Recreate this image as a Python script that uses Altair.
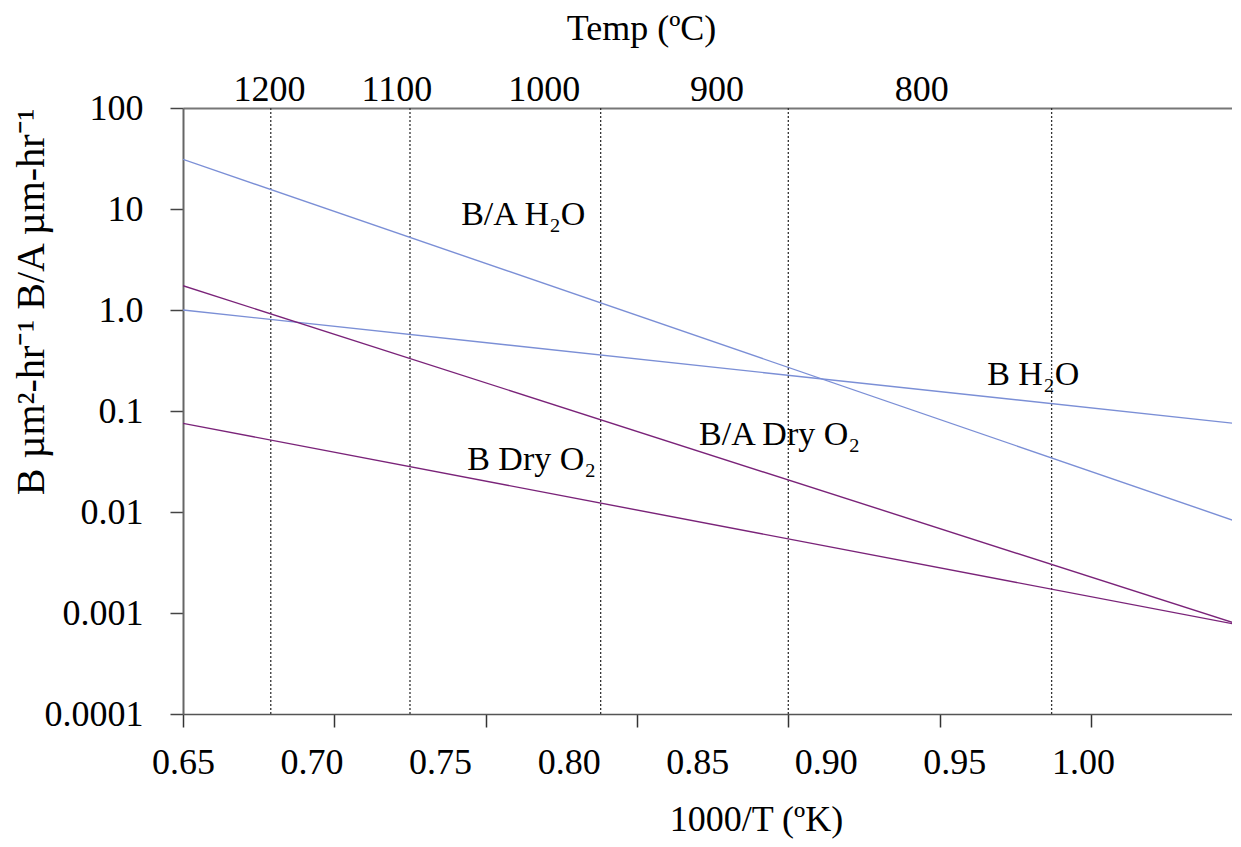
import altair as alt
import pandas as pd

FONT = "Liberation Serif"

# ---- data ----
series_names = ["B/A H2O", "B H2O", "B/A Dry O2", "B Dry O2"]
x_ends = [0.65, 1.00]                      # 1000/T at the left and right ends
ba_h2o = [31.0, 0.0077]
b_h2o = [1.0, 0.074]
ba_dry_o2 = [1.74, 0.00075]
b_dry_o2 = [0.0755, 0.00075]
series_values = [ba_h2o, b_h2o, ba_dry_o2, b_dry_o2]
series_colors = ["#7b8fd6", "#7b8fd6", "#7a2379", "#7a2379"]
series_widths = [1.4, 1.4, 2.0, 2.0]

guide_x = [0.679, 0.725, 0.788, 0.850, 0.937]   # dotted temperature guides

x_tick_values = [0.65, 0.70, 0.75, 0.80, 0.85, 0.90, 0.95]
x_label_values = [0.65, 0.70, 0.75, 0.80, 0.85, 0.90, 0.95, 1.00]
y_tick_values = [0.0001, 0.001, 0.01, 0.1, 1, 10, 100]
temps_c = [1200, 1100, 1000, 900, 800]

annot_text = ["B/A H\u2082O", "B H\u2082O", "B/A Dry O\u2082", "B Dry O\u2082"]
annot_x = [0.7419, 0.9157, 0.8205, 0.7439]
annot_y = [6.95, 0.181, 0.046, 0.026]

# ---- tables ----
line_df = pd.DataFrame(
    [{"series": s, "x": xv, "y": yv}
     for s, vals in zip(series_names, series_values)
     for xv, yv in zip(x_ends, vals)]
)
guide_df = pd.DataFrame({"x": guide_x})
annot_df = pd.DataFrame({"x": annot_x, "y": annot_y, "label": annot_text})
xlab_df = pd.DataFrame({"v": x_label_values})
temp_df = pd.DataFrame({"t": temps_c, "inv": [1000.0 / (t + 273.15) for t in temps_c]})

# ---- scales / axes ----
xs = alt.Scale(domain=[0.65, 0.9966], nice=False, zero=False)
xax = alt.Axis(values=x_tick_values, labels=False, ticks=True, tickSize=13,
               tickColor="#333", tickWidth=1.5, domainColor="#555",
               domainWidth=1.5, grid=False, title=None)
ys = alt.Scale(type="log", domain=[0.0001, 100], nice=False)
yax = alt.Axis(values=y_tick_values, format="~g",
               labelExpr="datum.value == 1 ? '1.0' : datum.label",
               tickSize=13, tickColor="#444", tickWidth=1.5,
               domainColor="#666", domainWidth=2, grid=False,
               labelFont=FONT, labelFontSize=36, labelColor="black",
               labelPadding=27,
               title="B \u00b5m\u00b2-hr\u207b\u00b9 B/A \u00b5m-hr\u207b\u00b9",
               titleFont=FONT, titleFontSize=40, titleFontWeight="normal",
               titleColor="black", titleAnchor="end", titlePadding=-7)

X = alt.X("x:Q", scale=xs, axis=xax)
Y = alt.Y("y:Q", scale=ys, axis=yax)

rules = alt.Chart(guide_df).mark_rule(
    color="#333", strokeDash=[2, 2], strokeWidth=1.3
).encode(x=X)

lines = alt.Chart(line_df).mark_line(clip=True).encode(
    x=X, y=Y,
    color=alt.Color("series:N", scale=alt.Scale(domain=series_names, range=series_colors), legend=None),
    strokeWidth=alt.StrokeWidth("series:N", scale=alt.Scale(domain=series_names, range=series_widths), legend=None),
)

text = alt.Chart(annot_df).mark_text(
    align="left", baseline="alphabetic", font=FONT, fontSize=34, color="black"
).encode(x=X, y=Y, text="label:N")

main = alt.layer(rules, lines, text)

bottom_labels = alt.Chart(xlab_df).mark_point(opacity=0).encode(
    x=alt.X("v:Q", scale=alt.Scale(domain=[0.65, 1.058], nice=False, zero=False),
            axis=alt.Axis(orient="bottom", values=x_label_values, format=".2f",
                          ticks=False, domain=False, grid=False, labelFlush=False,
                          labelFont=FONT, labelFontSize=36, labelColor="black",
                          labelPadding=31,
                          title="1000/T (\u00baK)", titleFont=FONT, titleFontSize=36,
                          titleFontWeight="normal", titleColor="black",
                          titleX=573, titlePadding=22))
)

top_labels = alt.Chart(temp_df).mark_point(opacity=0).encode(
    x=alt.X("inv:Q", scale=alt.Scale(domain=[0.6455, 1.0524], nice=False, zero=False),
            axis=alt.Axis(orient="top", values=temp_df["inv"].tolist(),
                          labelExpr="format(1000 / datum.value - 273.15, '.0f')",
                          ticks=False, domain=True, domainColor="#777", domainWidth=2,
                          grid=False, labelFlush=False,
                          labelFont=FONT, labelFontSize=36, labelColor="black",
                          labelPadding=0,
                          title="Temp (\u00baC)", titleFont=FONT, titleFontSize=36,
                          titleFontWeight="normal", titleColor="black",
                          titleX=458, titlePadding=24))
)

chart = alt.layer(main, bottom_labels, top_labels).resolve_scale(
    x="independent"
).properties(
    width=1049, height=606,
    autosize=alt.AutoSizeParams(type="none"),
    padding={"left": 175, "top": 100, "right": 0, "bottom": 125},
    background="white",
).configure_view(stroke=None)

chart.save("out.html", embed_options={"renderer": "svg", "actions": False})
